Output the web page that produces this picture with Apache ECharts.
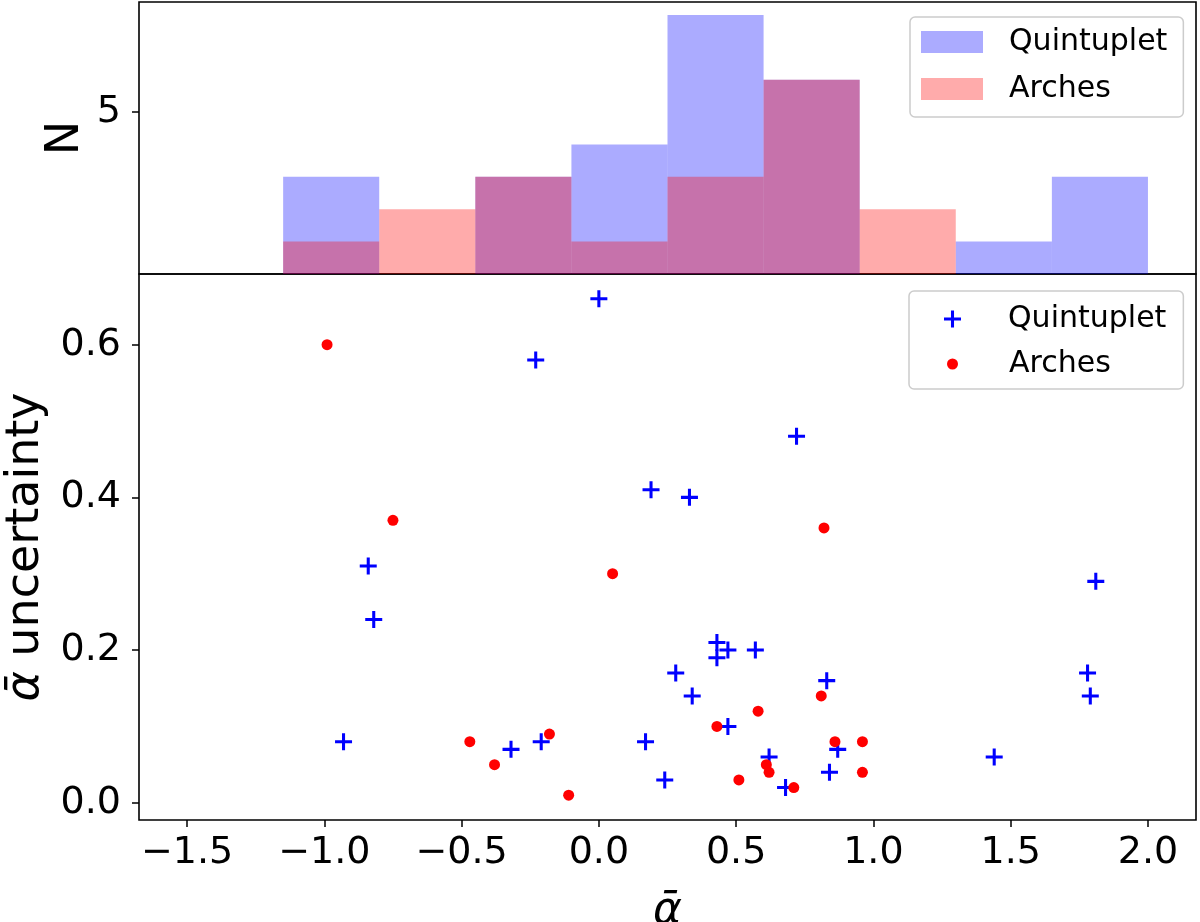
<!DOCTYPE html>
<html>
<head>
<meta charset="utf-8">
<script src="https://cdn.jsdelivr.net/npm/echarts@6/dist/echarts.min.js"></script>
<style>
  html, body { margin: 0; padding: 0; background: #fff; }
  #chart { width: 1200px; height: 922px; }
</style>
</head>
<body>
<div id="chart"></div>
<script>
// histogram bins (shared edges) and counts per bin
const binEdges = [-1.15, -0.8, -0.45, -0.1, 0.25, 0.6, 0.95, 1.3, 1.65, 2.0];
const quintupletCounts = [3, 0, 3, 4, 8, 6, 0, 1, 3];
const archesCounts = [1, 2, 3, 1, 3, 6, 2, 0, 0];

// alpha-bar vs its uncertainty
const quintupletAlpha = [0.00, -0.23, 0.72, 0.19, 0.33, -0.84, -0.82, -0.93, 0.43, 0.47, 0.43, 0.57, 0.28, 0.34,
  0.83, 0.47, -0.21, -0.32, 0.17, 0.24, 0.62, 0.68, 0.87, 0.84, 1.44, 1.81, 1.78, 1.79];
const quintupletUnc = [0.66, 0.58, 0.48, 0.41, 0.40, 0.31, 0.24, 0.08, 0.21, 0.20, 0.19, 0.20, 0.17, 0.14,
  0.16, 0.10, 0.08, 0.07, 0.08, 0.03, 0.06, 0.02, 0.07, 0.04, 0.06, 0.29, 0.17, 0.14];
const archesAlpha = [-0.99, -0.75, 0.82, -0.47, -0.38, 0.05, 0.81, 0.58, 0.43, -0.18, -0.11, 0.51, 0.61, 0.62,
  0.71, 0.86, 0.96, 0.96];
const archesUnc = [0.60, 0.37, 0.36, 0.08, 0.05, 0.30, 0.14, 0.12, 0.10, 0.09, 0.01, 0.03, 0.05, 0.04,
  0.02, 0.08, 0.08, 0.04];

const xTicks = [-1.5, -1.0, -0.5, 0.0, 0.5, 1.0, 1.5, 2.0];
const uncTicks = [0.0, 0.2, 0.4, 0.6];
const countTicks = [5];

const FONT = 'DejaVu Sans';
const PLUS = 'path://M-1,-0.18L1,-0.18L1,0.18L-1,0.18Z M-0.18,-1L0.18,-1L0.18,1L-0.18,1Z';
const QCOL = 'rgba(0,0,255,0.33)';
const ACOL = 'rgba(255,0,0,0.33)';

const toBins = (counts) => counts.map((n, i) => [binEdges[i], binEdges[i + 1], n]);
const toPoints = (xs, ys) => xs.map((x, i) => [x, ys[i]]);
const fmt = (v) => (v < 0 ? '\u2212' : '') + Math.abs(v).toFixed(1);

function histBar(params, api) {
  const n = api.value(2);
  if (!n) return null;
  const lo = api.coord([api.value(0), 0]);
  const hi = api.coord([api.value(1), n]);
  return {
    type: 'rect',
    shape: { x: lo[0], y: hi[1], width: hi[0] - lo[0], height: lo[1] - hi[1] },
    style: api.style()
  };
}

const chart = echarts.init(document.getElementById('chart'));

const tick = { show: true, inside: false, length: 7, lineStyle: { color: '#000', width: 1.5 } };
const label = { color: '#000', fontFamily: FONT, fontSize: 38 };
const legendText = { color: '#000', fontFamily: FONT, fontSize: 30 };
const noLine = { show: false, onZero: false };
const frame = { show: true, borderColor: '#000', borderWidth: 1.6, backgroundColor: 'transparent',
  outerBoundsMode: 'none', containLabel: false };

const option = {
  animation: false,
  backgroundColor: '#fff',
  grid: [
    Object.assign({ left: 139, right: 4, top: 2, height: 272 }, frame),
    Object.assign({ left: 139, right: 4, top: 274, height: 546 }, frame)
  ],
  xAxis: [
    { type: 'value', gridIndex: 0, min: -1.675, max: 2.175, position: 'bottom',
      axisLine: noLine, axisTick: { show: false }, axisLabel: { show: false }, splitLine: { show: false } },
    { type: 'value', gridIndex: 1, min: -1.675, max: 2.175, position: 'bottom',
      axisLine: noLine, splitLine: { show: false },
      axisTick: Object.assign({ customValues: xTicks }, tick),
      axisLabel: Object.assign({ customValues: xTicks, margin: 14, formatter: fmt }, label),
      name: 'ᾱ', nameLocation: 'middle', nameGap: 70,
      nameTextStyle: { color: '#000', fontFamily: FONT, fontSize: 44, fontStyle: 'italic' } }
  ],
  yAxis: [
    { type: 'value', gridIndex: 0, min: 0, max: 8.4, position: 'left',
      axisLine: noLine, splitLine: { show: false },
      axisTick: Object.assign({ customValues: countTicks }, tick),
      axisLabel: Object.assign({ customValues: countTicks, margin: 18 }, label),
      name: 'N', nameLocation: 'middle', nameGap: 50, nameRotate: 90, nameMoveOverlap: false,
      nameTextStyle: { color: '#000', fontFamily: FONT, fontSize: 46 } },
    { type: 'value', gridIndex: 1, min: -0.0225, max: 0.6925, position: 'left',
      axisLine: noLine, splitLine: { show: false },
      axisTick: Object.assign({ customValues: uncTicks }, tick),
      axisLabel: Object.assign({ customValues: uncTicks, margin: 18, formatter: fmt }, label),
      name: '{a|ᾱ} uncertainty', nameLocation: 'middle', nameGap: 90, nameRotate: 90,
      nameTextStyle: { color: '#000', fontFamily: FONT, fontSize: 46,
        rich: { a: { color: '#000', fontFamily: FONT, fontSize: 46, fontStyle: 'italic' } } } }
  ],
  legend: [
    { orient: 'vertical', left: 910, top: 17, itemWidth: 62, itemHeight: 22, itemGap: 17,
      padding: [10, 16, 13, 11], backgroundColor: '#fff', borderColor: '#ccc', borderWidth: 1.5, borderRadius: 5,
      textStyle: Object.assign({ padding: [0, 0, 0, 21] }, legendText),
      selectedMode: false,
      data: [
        { name: 'Quintuplet', icon: 'rect', itemStyle: { color: QCOL } },
        { name: 'Arches', icon: 'rect', itemStyle: { color: ACOL } }
      ] },
    { orient: 'vertical', left: 909, top: 291, itemWidth: 17, itemHeight: 17,
      padding: [13, 17, 55, 35], backgroundColor: '#fff', borderColor: '#ccc', borderWidth: 1.5, borderRadius: 5,
      textStyle: Object.assign({ padding: [0, 0, 0, 42] }, legendText),
      selectedMode: false, z: 5,
      data: [{ name: 'Quintuplet', icon: PLUS, itemStyle: { color: '#0000ff' } }] },
    { orient: 'vertical', left: 947, top: 349, itemWidth: 11, itemHeight: 11,
      padding: 0, selectedMode: false, z: 6,
      textStyle: Object.assign({ padding: [0, 0, 0, 46] }, legendText),
      data: [{ name: 'Arches', icon: 'circle', itemStyle: { color: '#ff0000' } }] }
  ],
  series: [
    { name: 'Quintuplet', type: 'custom', xAxisIndex: 0, yAxisIndex: 0, renderItem: histBar,
      itemStyle: { color: QCOL }, encode: { x: [0, 1], y: 2 }, data: toBins(quintupletCounts), z: 1 },
    { name: 'Arches', type: 'custom', xAxisIndex: 0, yAxisIndex: 0, renderItem: histBar,
      itemStyle: { color: ACOL }, encode: { x: [0, 1], y: 2 }, data: toBins(archesCounts), z: 2 },
    { name: 'Quintuplet', type: 'scatter', xAxisIndex: 1, yAxisIndex: 1, symbol: PLUS, symbolSize: 17,
      symbolKeepAspect: true, itemStyle: { color: '#0000ff', opacity: 1 }, data: toPoints(quintupletAlpha, quintupletUnc), z: 3 },
    { name: 'Arches', type: 'scatter', xAxisIndex: 1, yAxisIndex: 1, symbol: 'circle', symbolSize: 11,
      itemStyle: { color: '#ff0000', opacity: 1 }, data: toPoints(archesAlpha, archesUnc), z: 4 }
  ]
};

chart.setOption(option);
</script>
</body>
</html>
